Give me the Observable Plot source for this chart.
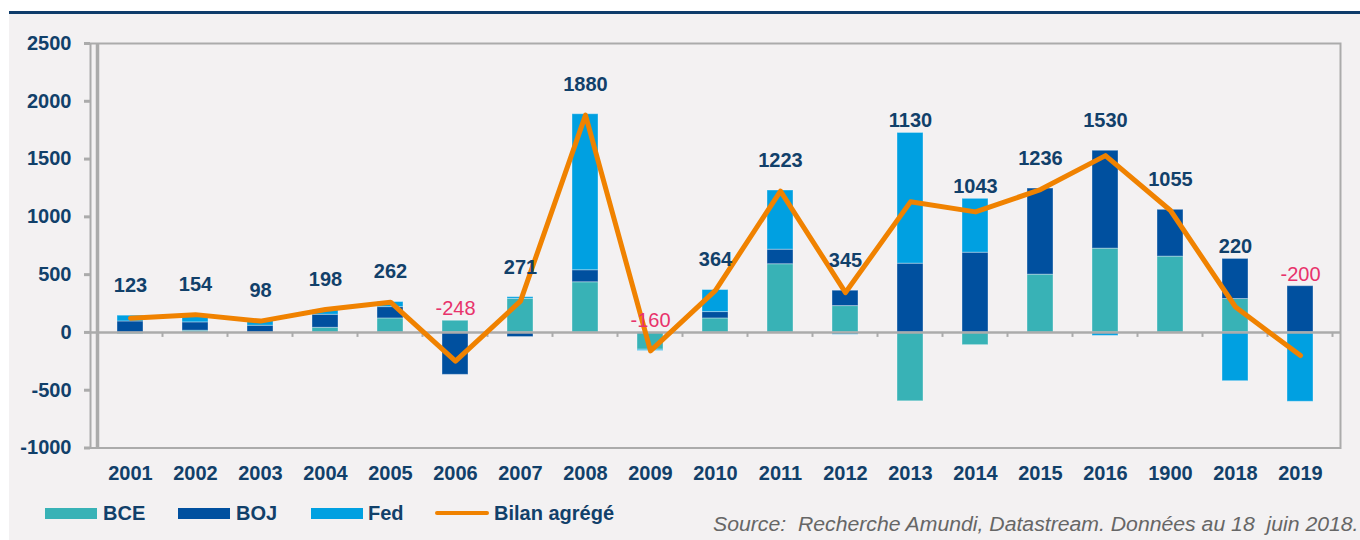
<!DOCTYPE html>
<html>
<head>
<meta charset="utf-8">
<script src="https://cdn.jsdelivr.net/npm/d3@7"></script>
<script src="https://cdn.jsdelivr.net/npm/@observablehq/plot@0.6"></script>
<style>
  html, body { margin: 0; padding: 0; background: #ffffff; overflow: hidden; }
  #wrap { position: relative; width: 1360px; height: 540px; overflow: hidden; font-family: "Liberation Sans", Arial, sans-serif; }
  #panel { position: absolute; left: 9px; top: 14px; right: 0; bottom: 0; background: #f3f1f2; }
  #topline { position: absolute; left: 9px; top: 11px; right: 0; height: 3px; background: #0e3c6b; }
  #chart { position: absolute; left: 0; top: 0; }
  #legend { position: absolute; left: 0; top: 500px; width: 700px; height: 26px; }
  .sw { position: absolute; top: 8px; height: 11px; }
  .lt { position: absolute; top: 1px; font-size: 20px; font-weight: bold; color: #11406a; line-height: 24px; white-space: nowrap; }
  #source { position: absolute; left: 713px; top: 512px; font-size: 19.5px; font-style: italic; color: #666666; white-space: nowrap; line-height: 24px; transform: scaleX(1.088); transform-origin: 0 50%; }
</style>
</head>
<body>
<div id="wrap">
  <div id="panel"></div>
  <div id="topline"></div>
  <div id="chart"></div>
  <div id="legend"></div>
  <div id="source">Source:&nbsp; Recherche Amundi, Datastream. Données au 18&nbsp; juin 2018.</div>
</div>
<script>
// ---- Data ----
const years = ["2001","2002","2003","2004","2005","2006","2007","2008","2009","2010",
               "2011","2012","2013","2014","2015","2016","1900","2018","2019"];
const bce = [-15, 15, 0, 40, 121, 101, 290, 434, -150, 121, 590, 228, -596, -110, 500, 725, 656, 289, 0];
const boj = [95, 72, 58, 113, 98, -367, -40, 104, 0, 55, 126, 133, 595, 690, 745, 847, 405, 347, 400];
const fed = [50, 51, 43, 38, 44, 0, 15, 1350, -10, 191, 512, -20, 1131, 466, 0, -30, 0, -422, -600];
const bilan = [123, 154, 98, 198, 262, -248, 271, 1880, -160, 364, 1223, 345, 1130, 1043, 1236, 1530, 1055, 220, -200];
const seriesNames = ["BCE", "BOJ", "Fed"];
const lineName = "Bilan agrégé";
const yTicks = [-1000, -500, 0, 500, 1000, 1500, 2000, 2500];

// ---- Styling ----
const colors = ["#38b2b6", "#00509f", "#00a0e1"];
const orange = "#f08200";
const navy = "#11406a";
const pink = "#e8336b";
const gray = "#ababab";

// rows for stacked bars
const seriesValues = [bce, boj, fed];
const rows = [];
years.forEach((yr, i) => {
  seriesNames.forEach((s, k) => rows.push({year: yr, series: s, value: seriesValues[k][i]}));
});
const points = years.map((yr, i) => {
  const posTop = seriesValues.reduce((a, arr) => a + Math.max(0, arr[i]), 0);
  return {year: yr, value: bilan[i], posTop, anchor: Math.max(bilan[i], posTop),
          overBar: posTop - bilan[i] > 50};
});

// band-boundary ticks on the zero line + thick left axis line
function boundaryTicks(index, scales) {
  const x = scales.x, y = scales.y;
  const g = d3.create("svg:g");
  const step = x.step(), bw = x.bandwidth();
  const y0 = y(0);
  years.forEach((yr) => {
    const bx = x(yr) + bw / 2 + step / 2;
    g.append("line").attr("x1", bx).attr("x2", bx).attr("y1", y0).attr("y2", y0 + 5)
      .attr("stroke", gray).attr("stroke-width", 2);
  });
  const left = x(years[0]) + bw / 2 - step / 2;
  g.append("line").attr("x1", left).attr("x2", left).attr("y1", y(2500)).attr("y2", y(-1000))
    .attr("stroke", gray).attr("stroke-width", 3.5);
  return g.node();
}

const labelStyle = (neg) => neg ? {fill: pink, fontSize: 20} : {fill: navy, fontSize: 20, fontWeight: "bold"};
const labelMarks = [];
[false, true].forEach(neg => {
  [false, true].forEach(over => {
    const subset = points.filter(d => (d.value < 0) === neg && d.overBar === over);
    if (subset.length) labelMarks.push(Plot.text(subset, {
      x: "year", y: "anchor", text: d => String(d.value), dy: over ? -12 : -30, ...labelStyle(neg)
    }));
  });
});

const chart = Plot.plot({
  width: 1360,
  height: 500,
  marginTop: 43,
  marginBottom: 52.5,
  marginLeft: 90,
  marginRight: 20,
  style: {background: "transparent", fontFamily: "'Liberation Sans', Arial, sans-serif", overflow: "visible"},
  x: {type: "band", domain: years, paddingInner: 0.6, paddingOuter: 0.3, label: null},
  y: {domain: [-1000, 2500], label: null},
  color: {domain: seriesNames, range: colors},
  marks: [
    Plot.frame({stroke: gray, strokeWidth: 2}),
    Plot.barY(rows, {x: "year", y: "value", fill: "series", stroke: "#ffffff", strokeOpacity: 0.35, strokeWidth: 1}),
    Plot.ruleY([0], {stroke: gray, strokeWidth: 2.5}),
    boundaryTicks,
    Plot.axisY({ticks: yTicks, tickSize: 6, tickPadding: 13, stroke: gray, strokeWidth: 3, fill: navy,
                fontSize: 20, fontWeight: "bold", tickFormat: d => String(d)}),
    Plot.axisX({tickSize: 0, tickPadding: 18, fill: navy, fontSize: 20, fontWeight: "bold"}),
    Plot.line(points, {x: "year", y: "value", stroke: orange, strokeWidth: 5}),
    ...labelMarks
  ]
});
document.getElementById("chart").appendChild(chart);

// ---- Legend (HTML, below the svg area) ----
const legend = document.getElementById("legend");
const swatchLeft = [45, 178, 311];
const textLeft = [103, 236, 368];
seriesNames.forEach((s, k) => {
  const sw = document.createElement("div");
  sw.className = "sw";
  sw.style.left = swatchLeft[k] + "px";
  sw.style.width = "52px";
  sw.style.background = colors[k];
  legend.appendChild(sw);
  const t = document.createElement("div");
  t.className = "lt";
  t.style.left = textLeft[k] + "px";
  t.textContent = s;
  legend.appendChild(t);
});
const ln = document.createElement("div");
ln.className = "sw";
ln.style.left = "435px"; ln.style.width = "54px"; ln.style.top = "11px"; ln.style.height = "4px";
ln.style.background = orange; ln.style.borderRadius = "2px";
legend.appendChild(ln);
const lt = document.createElement("div");
lt.className = "lt"; lt.style.left = "494px"; lt.textContent = lineName;
legend.appendChild(lt);
</script>
</body>
</html>
